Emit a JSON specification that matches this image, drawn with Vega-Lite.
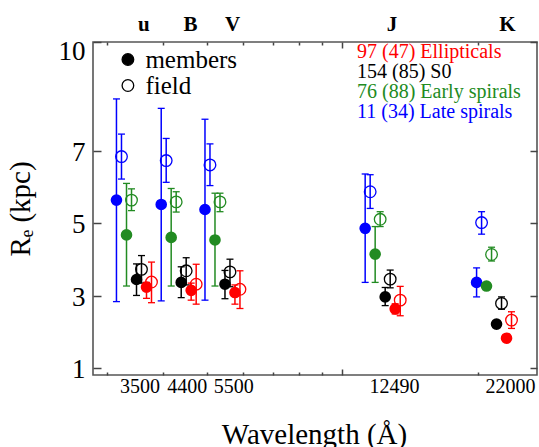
{
  "$schema": "https://vega.github.io/schema/vega-lite/v6.json",
  "autosize": {"type": "none"},
  "padding": {"left": 93, "top": 42, "right": 2, "bottom": 72},
  "width": 444,
  "height": 333,
  "config": {
    "font": "Liberation Serif",
    "view": {"stroke": "#555555", "strokeWidth": 1.6},
    "style": {"guide-label": {"font": "Liberation Serif"}, "guide-title": {"font": "Liberation Serif"}},
    "legend": {"labelFont": "Liberation Serif"},
    "axis": {"grid": false, "domain": false, "ticks": true, "tickColor": "#444444", "tickWidth": 1.5, "labelFont": "Liberation Serif", "titleFont": "Liberation Serif", "labelColor": "#000000", "titleColor": "#000000", "titleFontWeight": "normal", "labelFlush": false, "labelOverlap": false}
  },
  "data": {"values": [
    {"band": "u", "morph": "Late spirals", "type": "members", "wl": 3149, "re": 5.64, "lo": 2.84, "hi": 8.43},
    {"band": "u", "morph": "Late spirals", "type": "field", "wl": 3231, "re": 6.84, "lo": 6.22, "hi": 7.46},
    {"band": "u", "morph": "Early spirals", "type": "members", "wl": 3315, "re": 4.68, "lo": 3.27, "hi": 6.10},
    {"band": "u", "morph": "Early spirals", "type": "field", "wl": 3401, "re": 5.64, "lo": 5.35, "hi": 5.95},
    {"band": "u", "morph": "S0", "type": "members", "wl": 3489, "re": 3.45, "lo": 3.01, "hi": 3.88},
    {"band": "u", "morph": "S0", "type": "field", "wl": 3579, "re": 3.73, "lo": 3.35, "hi": 4.11},
    {"band": "u", "morph": "Ellipticals", "type": "members", "wl": 3672, "re": 3.24, "lo": 2.93, "hi": 3.37},
    {"band": "u", "morph": "Ellipticals", "type": "field", "wl": 3767, "re": 3.38, "lo": 2.81, "hi": 3.93},
    {"band": "B", "morph": "Late spirals", "type": "members", "wl": 3959, "re": 5.52, "lo": 2.86, "hi": 8.17},
    {"band": "B", "morph": "Late spirals", "type": "field", "wl": 4061, "re": 6.73, "lo": 6.13, "hi": 7.34},
    {"band": "B", "morph": "Early spirals", "type": "members", "wl": 4166, "re": 4.61, "lo": 3.27, "hi": 5.96},
    {"band": "B", "morph": "Early spirals", "type": "field", "wl": 4274, "re": 5.59, "lo": 5.31, "hi": 5.87},
    {"band": "B", "morph": "S0", "type": "members", "wl": 4385, "re": 3.37, "lo": 2.95, "hi": 3.80},
    {"band": "B", "morph": "S0", "type": "field", "wl": 4498, "re": 3.69, "lo": 3.30, "hi": 4.05},
    {"band": "B", "morph": "Ellipticals", "type": "members", "wl": 4614, "re": 3.15, "lo": 2.88, "hi": 3.35},
    {"band": "B", "morph": "Ellipticals", "type": "field", "wl": 4734, "re": 3.32, "lo": 2.77, "hi": 3.87},
    {"band": "V", "morph": "Late spirals", "type": "members", "wl": 4952, "re": 5.38, "lo": 2.88, "hi": 7.87},
    {"band": "V", "morph": "Late spirals", "type": "field", "wl": 5080, "re": 6.61, "lo": 6.04, "hi": 7.19},
    {"band": "V", "morph": "Early spirals", "type": "members", "wl": 5212, "re": 4.54, "lo": 3.27, "hi": 5.83},
    {"band": "V", "morph": "Early spirals", "type": "field", "wl": 5347, "re": 5.59, "lo": 5.32, "hi": 5.83},
    {"band": "V", "morph": "S0", "type": "members", "wl": 5485, "re": 3.32, "lo": 2.92, "hi": 3.70},
    {"band": "V", "morph": "S0", "type": "field", "wl": 5627, "re": 3.66, "lo": 3.25, "hi": 4.01},
    {"band": "V", "morph": "Ellipticals", "type": "members", "wl": 5772, "re": 3.09, "lo": 2.77, "hi": 3.30},
    {"band": "V", "morph": "Ellipticals", "type": "field", "wl": 5922, "re": 3.18, "lo": 2.65, "hi": 3.69},
    {"band": "J", "morph": "Late spirals", "type": "members", "wl": 11234, "re": 4.86, "lo": 3.37, "hi": 6.36},
    {"band": "J", "morph": "Late spirals", "type": "field", "wl": 11525, "re": 5.87, "lo": 5.41, "hi": 6.34},
    {"band": "J", "morph": "Early spirals", "type": "members", "wl": 11823, "re": 4.15, "lo": 3.37, "hi": 4.91},
    {"band": "J", "morph": "Early spirals", "type": "field", "wl": 12130, "re": 5.11, "lo": 4.91, "hi": 5.32},
    {"band": "J", "morph": "S0", "type": "members", "wl": 12445, "re": 2.97, "lo": 2.73, "hi": 3.23},
    {"band": "J", "morph": "S0", "type": "field", "wl": 12767, "re": 3.46, "lo": 3.22, "hi": 3.71},
    {"band": "J", "morph": "Ellipticals", "type": "members", "wl": 13098, "re": 2.64, "lo": 2.50, "hi": 2.78},
    {"band": "J", "morph": "Ellipticals", "type": "field", "wl": 13440, "re": 2.88, "lo": 2.45, "hi": 3.26},
    {"band": "K", "morph": "Late spirals", "type": "members", "wl": 19860, "re": 3.37, "lo": 2.97, "hi": 3.77},
    {"band": "K", "morph": "Late spirals", "type": "field", "wl": 20374, "re": 5.02, "lo": 4.70, "hi": 5.32},
    {"band": "K", "morph": "Early spirals", "type": "members", "wl": 20893, "re": 3.27, "lo": null, "hi": null},
    {"band": "K", "morph": "Early spirals", "type": "field", "wl": 21440, "re": 4.14, "lo": 3.96, "hi": 4.34},
    {"band": "K", "morph": "S0", "type": "members", "wl": 21994, "re": 2.22, "lo": null, "hi": null},
    {"band": "K", "morph": "S0", "type": "field", "wl": 22562, "re": 2.79, "lo": 2.63, "hi": 2.97},
    {"band": "K", "morph": "Ellipticals", "type": "members", "wl": 23147, "re": 1.83, "lo": null, "hi": null},
    {"band": "K", "morph": "Ellipticals", "type": "field", "wl": 23745, "re": 2.33, "lo": 2.10, "hi": 2.56}
  ]},
  "resolve": {"axis": {"x": "independent", "y": "independent"}},
  "layer": [
    {
      "transform": [{"filter": "datum.type == 'members'"}],
      "mark": {"type": "rule", "strokeWidth": 1.5},
      "encoding": {
        "x": {"field": "wl", "type": "quantitative", "scale": {"type": "log", "domain": [2793, 27050], "nice": false},
          "axis": {"orient": "bottom", "values": [3500, 4400, 5500, 12490, 22000], "format": "d", "ticks": false, "labelFontSize": 20, "labelPadding": 1,
            "labelOffset": {"condition": [{"test": "datum.value == 3500", "value": 2.3}, {"test": "datum.value == 4400", "value": 4.8}, {"test": "datum.value == 5500", "value": 7.8}, {"test": "datum.value == 12490", "value": 8.1}], "value": 13.4},
            "title": "Wavelength (Å)", "titleFontSize": 29, "titleX": 221, "titleY": 68, "titleBaseline": "alphabetic", "titleAlign": "center"}},
        "y": {"field": "lo", "type": "quantitative", "scale": {"domain": [0.816, 10], "nice": false, "zero": false},
          "axis": {"orient": "left", "values": [1, 3, 5, 7, 10], "offset": -8, "tickSize": 8, "labelPadding": 8, "labelFontSize": 27,
            "labelOffset": {"condition": {"test": "datum.value == 10", "value": 9}, "value": 1.5},
            "title": "Rₑ (kpc)", "titleFontSize": 29, "titleAngle": -90, "titleX": -71.5, "titleY": 166.5, "titleAlign": "center", "titleBaseline": "alphabetic"}},
        "y2": {"field": "hi"},
        "color": {"field": "morph", "type": "nominal", "sort": ["Ellipticals", "S0", "Early spirals", "Late spirals"], "scale": {"range": ["#ff0000", "#000000", "#228b22", "#0000ff"]}}
      }
    },
    {
      "transform": [{"filter": "datum.type == 'field'"}],
      "mark": {"type": "rule", "strokeWidth": 1.5},
      "encoding": {
        "x": {"field": "wl", "type": "quantitative",
          "axis": {"orient": "bottom", "values": [10000], "labels": false, "title": null, "offset": -6, "tickSize": 6}},
        "y": {"field": "lo", "type": "quantitative", "axis": null},
        "y2": {"field": "hi"},
        "color": {"field": "morph", "type": "nominal", "sort": ["Ellipticals", "S0", "Early spirals", "Late spirals"]}
      }
    },
    {
      "mark": {"type": "tick", "orient": "horizontal", "size": 7, "thickness": 1.3, "opacity": 1},
      "encoding": {
        "x": {"field": "wl", "type": "quantitative",
          "axis": {"orient": "bottom", "values": [3000, 4000, 5000, 6000, 7000, 8000, 9000, 20000], "labels": false, "title": null, "offset": -3, "tickSize": 3}},
        "y": {"field": "hi", "type": "quantitative",
          "axis": {"orient": "right", "values": [1, 3, 5, 7, 10], "labels": false, "title": null, "offset": -7, "tickSize": 7}},
        "color": {"field": "morph", "type": "nominal", "sort": ["Ellipticals", "S0", "Early spirals", "Late spirals"]}
      }
    },
    {
      "mark": {"type": "tick", "orient": "horizontal", "size": 7, "thickness": 1.3, "opacity": 1},
      "encoding": {
        "x": {"field": "wl", "type": "quantitative",
          "axis": {"orient": "top", "values": [3000, 4000, 5000, 6000, 7000, 8000, 9000, 20000], "labels": false, "title": null, "offset": -3, "tickSize": 3}},
        "y": {"field": "lo", "type": "quantitative", "axis": null},
        "color": {"field": "morph", "type": "nominal", "sort": ["Ellipticals", "S0", "Early spirals", "Late spirals"]}
      }
    },
    {
      "transform": [{"filter": "datum.type == 'members'"}],
      "mark": {"type": "point", "filled": true, "size": 135, "opacity": 1},
      "encoding": {
        "x": {"field": "wl", "type": "quantitative",
          "axis": {"orient": "top", "values": [3500, 4400, 5500, 12490, 22000], "ticks": false, "title": null, "labelFontSize": 21, "labelFontWeight": "bold", "labelPadding": 8,
            "labelExpr": "datum.value == 3500 ? 'u' : datum.value == 4400 ? 'B' : datum.value == 5500 ? 'V' : datum.value == 12490 ? 'J' : 'K'",
            "labelOffset": {"condition": [{"test": "datum.value == 3500", "value": 6.3}, {"test": "datum.value == 4400", "value": 8.1}, {"test": "datum.value == 5500", "value": 6.5}, {"test": "datum.value == 12490", "value": 5.6}], "value": 10.4}}},
        "y": {"field": "re", "type": "quantitative", "axis": null},
        "color": {"field": "morph", "type": "nominal", "sort": ["Ellipticals", "S0", "Early spirals", "Late spirals"],
          "legend": {"title": null, "orient": "none", "legendX": 244, "legendY": 0, "padding": 0.01, "symbolSize": 0.5, "symbolOpacity": 0.001, "symbolStrokeWidth": 0.01, "labelOffset": 0.01, "labelFont": "Liberation Serif", "labelFontSize": 20, "rowPadding": -8, "labelLimit": 400,
            "labelExpr": "datum.value == 'Ellipticals' ? '97 (47) Ellipticals' : datum.value == 'S0' ? '154 (85) S0' : datum.value == 'Early spirals' ? '76 (88) Early spirals' : '11 (34) Late spirals'",
            "encoding": {"labels": {"font": {"value": "Liberation Serif"}, "fill": {"condition": [{"test": "datum.value == 'S0'", "value": "#000000"}, {"test": "datum.value == 'Early spirals'", "value": "#228b22"}, {"test": "datum.value == 'Late spirals'", "value": "#0000ff"}], "value": "#ff0000"}}}}},
        "shape": {"field": "type", "type": "nominal", "sort": ["members", "field"], "scale": {"range": ["circle", "circle"]},
          "legend": {"title": null, "orient": "none", "legendX": 22.4, "legendY": 5, "padding": 0.01, "symbolSize": 135, "symbolFillColor": "#000000", "symbolStrokeColor": "#000000", "symbolStrokeWidth": 1.3, "labelFont": "Liberation Serif", "labelFontSize": 25, "labelOffset": 5, "rowPadding": 0, "labelLimit": 300,
            "encoding": {"labels": {"font": {"value": "Liberation Serif"}}, "symbols": {"fillOpacity": {"condition": {"test": "datum.value == 'field'", "value": 0}, "value": 1}}}}}
      }
    },
    {
      "transform": [{"filter": "datum.type == 'field'"}],
      "mark": {"type": "point", "filled": false, "size": 135, "strokeWidth": 1.3, "opacity": 1},
      "encoding": {
        "x": {"field": "wl", "type": "quantitative",
          "axis": {"orient": "top", "values": [10000], "labels": false, "title": null, "offset": -6, "tickSize": 6}},
        "y": {"field": "re", "type": "quantitative", "axis": null},
        "color": {"field": "morph", "type": "nominal", "sort": ["Ellipticals", "S0", "Early spirals", "Late spirals"]},
        "shape": {"field": "type", "type": "nominal", "sort": ["members", "field"]}
      }
    }
  ]
}
